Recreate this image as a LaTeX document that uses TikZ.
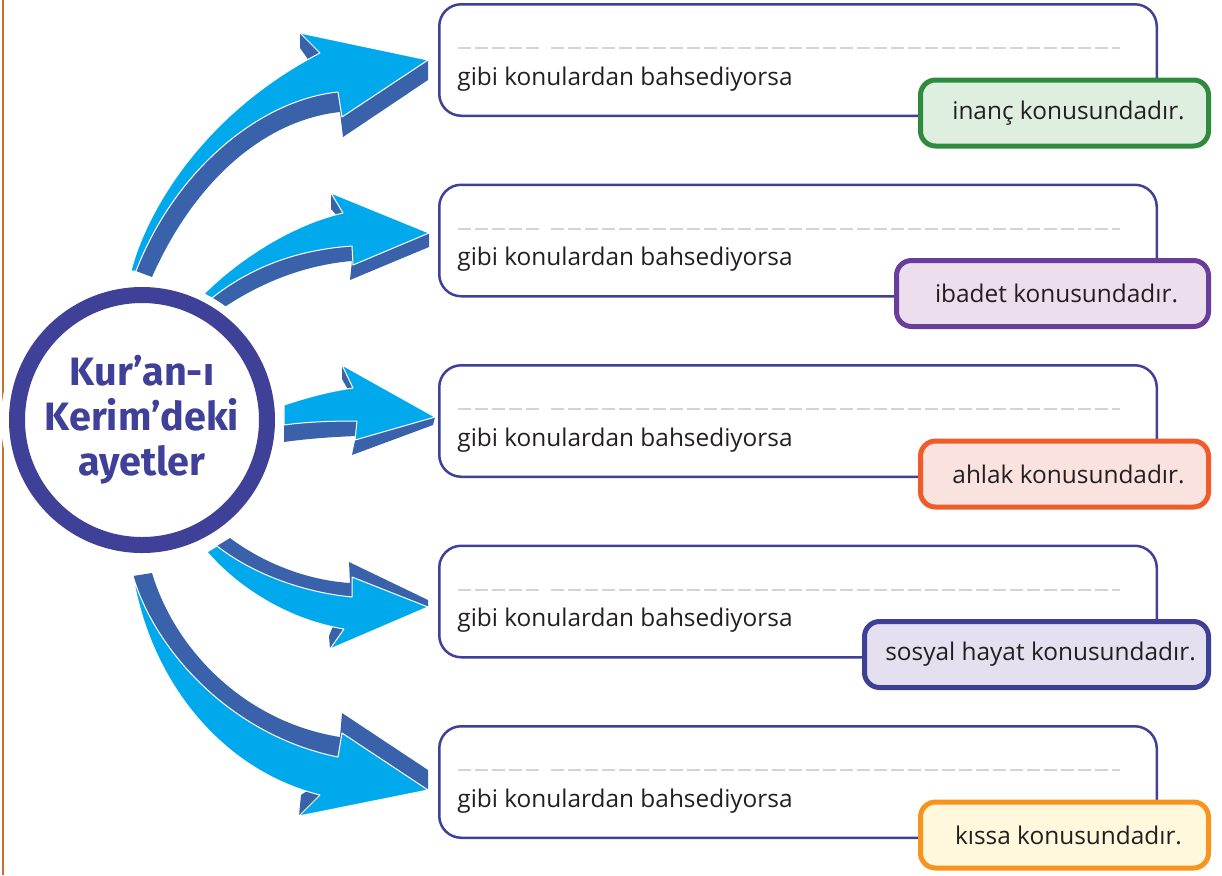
\documentclass[tikz,border=0pt]{standalone}
\usepackage{fontspec}
\setmainfont{Open Sans}
\newfontfamily\hubfont{Fira Sans}

\definecolor{ringblue}{RGB}{63,64,152}
\definecolor{arrowlight}{RGB}{0,168,236}
\definecolor{arrowdark}{RGB}{58,98,170}
\definecolor{inkgray}{RGB}{35,31,32}
\definecolor{dashgray}{RGB}{212,212,212}
\definecolor{edgeorange}{RGB}{200,112,50}
\definecolor{inancline}{RGB}{46,139,62}
\definecolor{inancfill}{RGB}{222,239,224}
\definecolor{ibadetline}{RGB}{106,61,154}
\definecolor{ibadetfill}{RGB}{237,222,238}
\definecolor{ahlakline}{RGB}{241,90,41}
\definecolor{ahlakfill}{RGB}{250,226,222}
\definecolor{sosyalline}{RGB}{62,64,149}
\definecolor{sosyalfill}{RGB}{228,224,239}
\definecolor{kissaline}{RGB}{247,148,30}
\definecolor{kissafill}{RGB}{255,248,220}

\begin{document}
\begin{tikzpicture}[
    x=0.5pt, y=-0.5pt,
    frame/.style={draw=ringblue, line width=1.25pt, rounded corners=11pt,
      minimum width=358.75pt, minimum height=55.75pt, inner sep=0pt},
    tagbox/.style={line width=2.5pt, rounded corners=7.5pt, minimum height=33pt,
      inner sep=0pt, text=inkgray, font=\fontsize{12.2}{14}\selectfont},
    lead/.style={inner sep=0pt, text=inkgray, font=\fontsize{12.2}{14}\selectfont},
    dashline/.style={draw=dashgray, line width=1pt, dash pattern=on 6.5pt off 2pt},
    face/.style={fill=arrowlight, draw=white, line width=0.5pt, line join=round},
    side/.style={fill=arrowdark},
    hub/.style={circle, draw=ringblue, line width=8pt, fill=white, minimum size=125pt,
      inner sep=0pt, align=center, text=ringblue,
      font=\hubfont\bfseries\fontsize{19.8}{22.5}\selectfont},
  line join=round]
  \useasboundingbox (0,0) rectangle (1222,875);

  \draw[edgeorange, line width=1pt] (3,0) -- (3,875);

  % arrows, dark side first
  \fill[side] (136,271) -- (152,277) .. controls (195,180) and (265,120) .. (340,112) -- (343,137)
    -- (428,80) -- (428,60) -- (338,92) .. controls (260,100) and (175,170) .. (136,271) -- cycle;
  \fill[side] (300,33) -- (300,48) -- (310,62) -- (320,53) -- cycle;
  \filldraw[face] (131,271) .. controls (145,215) and (200,115) .. (320,53) -- (300,33) -- (428,60)
    -- (342,117) -- (338,92) .. controls (260,100) and (175,170) .. (136,271) -- cycle;

  \fill[side] (212,298) -- (223,308) .. controls (262,282) and (305,265) .. (352,261) -- (350,280)
    -- (429,247) -- (429,233) -- (352,246) .. controls (295,250) and (250,268) .. (212,298) -- cycle;
  \fill[side] (331,193) -- (331,209) -- (339,218) -- (343,213) -- cycle;
  \filldraw[face] (203,295) .. controls (235,262) and (290,225) .. (343,213) -- (331,193) -- (429,233)
    -- (353,265) -- (352,246) .. controls (295,250) and (250,268) .. (212,298) -- cycle;

  \fill[side] (284,425) -- (284,442) .. controls (305,439) and (330,437) .. (356,436) -- (352,455)
    -- (433,425) -- (435,417) -- (357,421) .. controls (330,421) and (305,422) .. (284,425) -- cycle;
  \fill[side] (342,365) -- (342,379) -- (350,393) -- (353,388) -- cycle;
  \filldraw[face] (284,405) .. controls (305,398) and (330,391) .. (353,388) -- (342,365) -- (435,417)
    -- (355,440) -- (357,421) .. controls (330,421) and (305,422) .. (284,425) -- cycle;

  \fill[side] (217,546) -- (230,538) .. controls (262,562) and (305,580) .. (350,583) -- (349,562)
    -- (428,600) -- (428,607) -- (352,597) .. controls (300,592) and (250,572) .. (217,546) -- cycle;
  \fill[side] (330,649) -- (329,636) -- (333,626) -- (344,629) -- cycle;
  \filldraw[face] (207,552) -- (217,546) .. controls (250,572) and (300,592) .. (352,597) -- (352,577)
    -- (428,607) -- (330,649) -- (344,629) .. controls (290,620) and (240,590) .. (207,552) -- cycle;

  \fill[side] (133,576) -- (152,573) .. controls (175,650) and (245,722) .. (340,737) -- (342,713)
    -- (428,770) -- (428,790) -- (338,757) .. controls (230,735) and (155,650) .. (133,576) -- cycle;
  \fill[side] (299,816) -- (301,795) -- (310,789) -- (320,795) -- cycle;
  \filldraw[face] (133,576) .. controls (155,650) and (230,735) .. (338,757) -- (342,733) -- (428,790)
    -- (299,816) -- (320,795) .. controls (220,770) and (150,680) .. (133,576) -- cycle;

  \fill[white] (142,420) circle [radius=141];
  \node[hub] (hub) at (142,420) {Kur’an-ı\\Kerim’deki\\ayetler};

  \foreach \i/\tagtext/\lc/\fc/\tw in {
      0/inanç konusundadır./inancline/inancfill/144,
      1/ibadet konusundadır./ibadetline/ibadetfill/156,
      2/ahlak konusundadır./ahlakline/ahlakfill/144,
      3/sosyal hayat konusundadır./sosyalline/sosyalfill/172,
      4/kıssa konusundadır./kissaline/kissafill/144}{
    \pgfmathsetmacro\yc{60+180.5*\i}
    \node[frame] (box\i) at (798,\yc) {};
    \draw[dashline] (458,\yc-12) -- (540,\yc-12);
    \draw[dashline] (551,\yc-12) -- (1120,\yc-12);
    \node[lead, anchor=base west] (lead\i) at (457,\yc+25) {gibi konulardan bahsediyorsa};
    \node[tagbox, draw=\lc, fill=\fc, minimum width=\tw pt, anchor=east] (tag\i)
      at (1211,\yc+53) {\hspace*{4pt}\tagtext};
  }
\end{tikzpicture}
\end{document}
